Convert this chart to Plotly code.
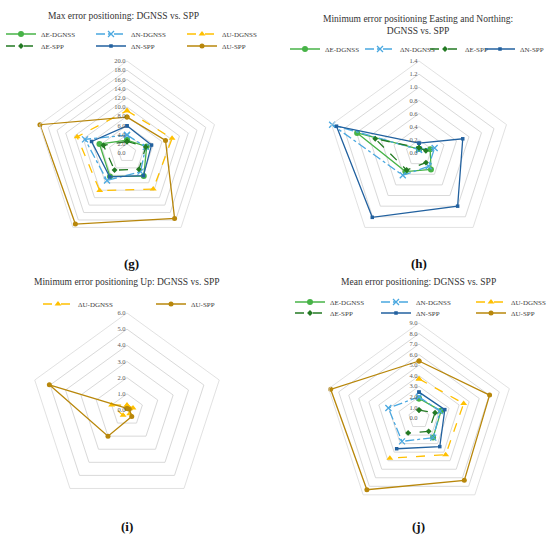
import plotly.graph_objects as go

W, H = 550, 539
FONT = "Liberation Serif"

# five test points around each radar (no labels shown in the figure)
sites = ["P1", "P2", "P3", "P4", "P5"]

# (g) max error positioning
max_e_dgnss = [2.8, 4.5, 6.2, 6.3, 6.3]
max_n_dgnss = [3.9, 4.3, 5.0, 7.4, 9.6]
max_u_dgnss = [9.2, 10.3, 9.7, 10.1, 11.4]
max_e_spp = [2.5, 4.3, 4.4, 4.6, 5.4]
max_n_spp = [5.9, 5.6, 6.1, 6.4, 8.1]
max_u_spp = [7.8, 8.8, 17.6, 19.1, 19.9]

# (h) minimum error, easting / northing
min_e_dgnss = [0.06, 0.18, 0.31, 0.35, 0.99]
min_n_dgnss = [0.05, 0.25, 0.25, 0.42, 1.39]
min_e_spp = [0.08, 0.11, 0.18, 0.32, 0.70]
min_n_spp = [0.15, 0.70, 1.00, 1.21, 1.32]

# (i) minimum error, up
min_u_dgnss = [0.30, 0.39, 0.28, 0.41, 1.00]
min_u_spp = [0.10, 0.15, 0.50, 2.00, 5.05]

# (j) mean error (None = no value, line is broken there)
mean_e_dgnss = [1.85, 2.2, 2.27, None, None]
mean_n_dgnss = [2.0, 2.1, 2.3, 2.74, 3.05]
mean_u_dgnss = [3.7, 4.45, 4.3, 4.7, None]
mean_e_spp = [0.75, 1.6, 1.56, 1.75, None]
mean_n_spp = [2.45, 2.57, 3.35, 3.6, None]
mean_u_spp = [5.4, 7.03, 7.3, 8.4, 8.8]

STYLE = {
    "ΔE-DGNSS": dict(color="#47b347", dash="solid", symbol="circle", size=6),
    "ΔN-DGNSS": dict(color="#4aa8e0", dash="dashdot", symbol="x-thin", size=6),
    "ΔU-DGNSS": dict(color="#ffc000", dash="dash", symbol="triangle-up", size=6),
    "ΔE-SPP": dict(color="#237a23", dash="dash", symbol="diamond", size=4.5),
    "ΔN-SPP": dict(color="#22619f", dash="solid", symbol="square", size=3.5),
    "ΔU-SPP": dict(color="#b8870b", dash="solid", symbol="circle", size=5),
}


def px(x):
    return x / W


def py(y):
    return 1 - y / H


def add_series(fig, subplot, name, values, legend, legendwidth=None):
    s = STYLE[name]
    marker = dict(symbol=s["symbol"], size=s["size"], color=s["color"])
    if s["symbol"] == "x-thin":
        marker["line"] = dict(color=s["color"], width=1.3)
    fig.add_trace(go.Scatterpolar(
        r=values + values[:1],
        theta=sites + sites[:1],
        mode="lines+markers",
        name=name,
        line=dict(color=s["color"], width=1.3, dash=s["dash"]),
        marker=marker,
        subplot=subplot,
        legend=legend,
        legendwidth=legendwidth,
        connectgaps=False,
    ))


def polar(cx, cy, R, rmax, dtick):
    return dict(
        domain=dict(x=[px(cx - R), px(cx + R)], y=[py(cy + R), py(cy - R)]),
        gridshape="linear",
        bgcolor="white",
        radialaxis=dict(
            range=[0, rmax], dtick=dtick, tickformat=".1f", angle=90,
            side="counterclockwise", showline=False, ticks="", tickangle=90,
            gridcolor="#d9d9d9", gridwidth=0.8,
            tickfont=dict(family=FONT, size=6.5, color="#595959"),
        ),
        angularaxis=dict(
            type="category", rotation=90, direction="clockwise",
            showticklabels=False, ticks="", showgrid=False,
            showline=True, linecolor="#d9d9d9", linewidth=0.8,
        ),
    )


def legend_box(x, y, entrywidth=30):
    return dict(
        orientation="h", x=px(x), y=py(y), xanchor="left", yanchor="middle",
        entrywidth=entrywidth, entrywidthmode="pixels", itemwidth=30,
        font=dict(family=FONT, size=7, color="#404040"),
        bgcolor="rgba(0,0,0,0)", tracegroupgap=0,
    )


fig = go.Figure()

# (g)
add_series(fig, "polar", "ΔE-DGNSS", max_e_dgnss, "legend", 45)
add_series(fig, "polar", "ΔN-DGNSS", max_n_dgnss, "legend", 46)
add_series(fig, "polar", "ΔU-DGNSS", max_u_dgnss, "legend", 45)
add_series(fig, "polar", "ΔE-SPP", max_e_spp, "legend2", 45)
add_series(fig, "polar", "ΔN-SPP", max_n_spp, "legend2", 46)
add_series(fig, "polar", "ΔU-SPP", max_u_spp, "legend2", 45)

# (h)
add_series(fig, "polar2", "ΔE-DGNSS", min_e_dgnss, "legend3", 30)
add_series(fig, "polar2", "ΔN-DGNSS", min_n_dgnss, "legend3", 20)
add_series(fig, "polar2", "ΔE-SPP", min_e_spp, "legend3", 10)
add_series(fig, "polar2", "ΔN-SPP", min_n_spp, "legend3", 25)

# (i)
add_series(fig, "polar3", "ΔU-DGNSS", min_u_dgnss, "legend4", 68)
add_series(fig, "polar3", "ΔU-SPP", min_u_spp, "legend4", 40)

# (j)
add_series(fig, "polar4", "ΔE-DGNSS", mean_e_dgnss, "legend5", 41)
add_series(fig, "polar4", "ΔN-DGNSS", mean_n_dgnss, "legend5", 50)
add_series(fig, "polar4", "ΔU-DGNSS", mean_u_dgnss, "legend5", 40)
add_series(fig, "polar4", "ΔE-SPP", mean_e_spp, "legend6", 41)
add_series(fig, "polar4", "ΔN-SPP", mean_n_spp, "legend6", 50)
add_series(fig, "polar4", "ΔU-SPP", mean_u_spp, "legend6", 40)

titles = [
    ("Max error positioning: DGNSS vs. SPP", 123, 16),
    ("Minimum error positioning Easting and Northing:<br>DGNSS vs. SPP", 418, 25),
    ("Minimum error positioning Up: DGNSS vs. SPP", 127, 282),
    ("Mean error positioning: DGNSS vs. SPP", 418, 282),
]
panel_tags = [("(g)", 131, 263), ("(h)", 419, 263), ("(i)", 127, 526), ("(j)", 418, 526)]

annotations = []
for text, x, y in titles:
    annotations.append(dict(
        text=text, x=px(x), y=py(y), xref="paper", yref="paper",
        xanchor="center", yanchor="middle", showarrow=False,
        font=dict(family=FONT, size=9.5, color="#333333"),
    ))
for text, x, y in panel_tags:
    annotations.append(dict(
        text="<b>" + text + "</b>", x=px(x), y=py(y), xref="paper", yref="paper",
        xanchor="center", yanchor="middle", showarrow=False,
        font=dict(family=FONT, size=13, color="#111111"),
    ))

fig.update_layout(
    width=W, height=H,
    margin=dict(l=0, r=0, t=0, b=0, autoexpand=False),
    paper_bgcolor="white",
    polar=polar(127, 153, 92, 20, 2),
    polar2=polar(419, 153, 92, 1.4, 0.2),
    polar3=polar(127, 410, 97, 6, 1),
    polar4=polar(419, 418, 95, 9, 1),
    legend=legend_box(1, 34),
    legend2=legend_box(1, 46),
    legend3=legend_box(285, 49),
    legend4=legend_box(38, 304),
    legend5=legend_box(290, 302),
    legend6=legend_box(290, 313),
    annotations=annotations,
    font=dict(family=FONT),
)

fig.write_html(
    "out.html",
    config={"displayModeBar": False},
    post_script="document.body.style.margin='0';",
)
